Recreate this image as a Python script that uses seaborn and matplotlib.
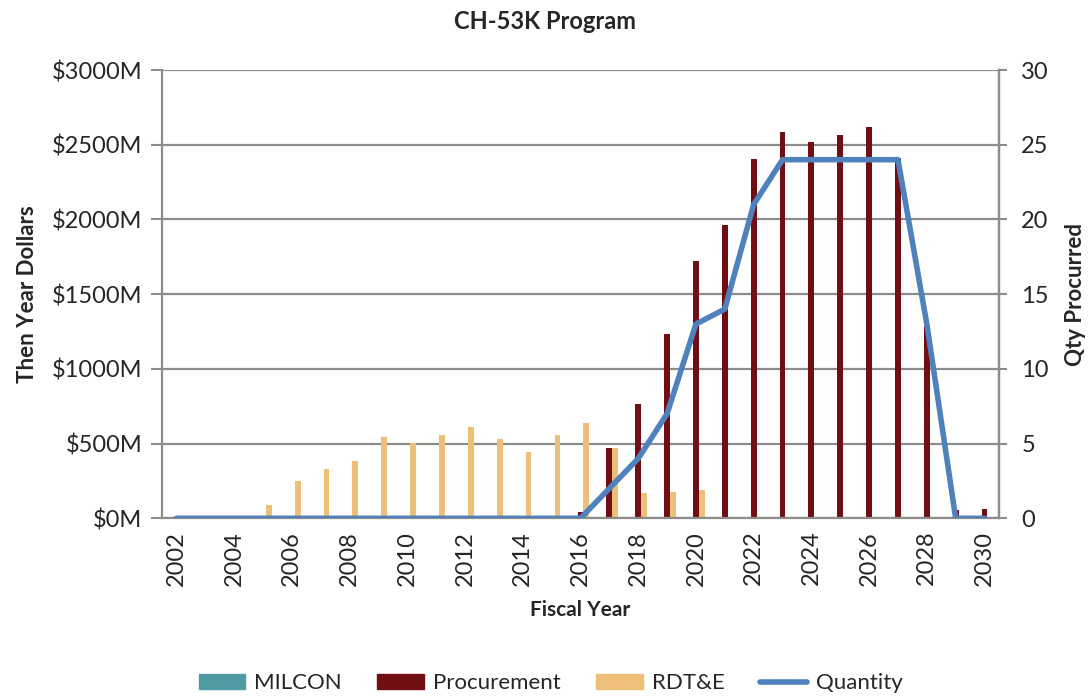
import numpy as np
import pandas as pd
import matplotlib
matplotlib.use('Agg')
import matplotlib.pyplot as plt
import seaborn as sns
from matplotlib.patches import Patch
from matplotlib.lines import Line2D

years = list(range(2002, 2031))
milcon = [0, 0, 0, 0, 0, 0, 0, 0, 0, 0, 0, 0, 0, 0, 0, 0, 0, 5, 0, 0, 0, 0, 0, 0, 0, 0, 0, 0, 0]
procurement = [0, 0, 0, 0, 0, 0, 0, 0, 0, 0, 0, 0, 0, 0, 40, 471, 767, 1231, 1723, 1962, 2402,
               2584, 2521, 2563, 2618, 2408, 1285, 55, 61]
rdte = [0, 0, 0, 91, 247, 332, 385, 541, 507, 559, 611, 532, 446, 559, 638, 471, 168, 179, 188,
        0, 0, 0, 0, 0, 0, 0, 0, 0, 0]
quantity = [0, 0, 0, 0, 0, 0, 0, 0, 0, 0, 0, 0, 0, 0, 0, 2, 4, 7, 13, 14, 21, 24, 24, 24, 24, 24,
            13, 0, 0]
series_names = ['MILCON', 'Procurement', 'RDT&E']
colors = ['#4F9BA4', '#700E13', '#EEBF78']
line_color = '#4F81BD'
grid_color = '#8C8C8C'

sns.set_theme(style='white')
plt.rcParams['font.family'] = ['Lato', 'DejaVu Sans']

df = pd.DataFrame({'year': [str(y) for y in years] * 3,
                   'series': np.repeat(series_names, len(years)),
                   'value': milcon + procurement + rdte})

fig = plt.figure(figsize=(10.9, 6.96), dpi=100)
ax = fig.add_axes([0.1486, 0.2553, 0.7679, 0.6441])
sns.barplot(data=df, x='year', y='value', hue='series', palette=colors, width=0.6,
            dodge=True, ax=ax, legend=False, saturation=1, linewidth=0)
ax.set_ylim(0, 3000)
ax.set_xlim(-0.5, len(years) - 0.5)
ax.set_yticks(range(0, 3001, 500))
ax.set_yticklabels([f'${v}M' for v in range(0, 3001, 500)], fontsize=17)
ax.yaxis.grid(True, color=grid_color, lw=1.6)
ax.set_axisbelow(True)

# year labels every other category, tick marks on category boundaries
ax.set_xticks(range(0, len(years), 2))
ax.set_xticklabels([str(y) for y in years[::2]], rotation=90, fontsize=17)
ax.set_xticks(np.arange(-0.5, len(years), 1), minor=True)
ax.tick_params(axis='x', which='major', length=0, pad=9)
ax.tick_params(axis='x', which='minor', length=6, width=1.5, color=grid_color, direction='out')
ax.tick_params(axis='y', length=8, width=1.5, color=grid_color, direction='out', pad=6)
ax.set_xlabel('Fiscal Year', fontsize=15, fontweight='bold', labelpad=10)
ax.set_ylabel('Then Year Dollars', fontsize=16, fontweight='bold', labelpad=10)
for s in ['left', 'right', 'bottom']:
    ax.spines[s].set_color(grid_color)
    ax.spines[s].set_linewidth(1.6)
ax.spines['top'].set_visible(False)

ax2 = ax.twinx()
sns.lineplot(x=np.arange(len(years)), y=quantity, color=line_color, lw=4, ax=ax2)
ax2.set_ylim(0, 30)
ax2.set_yticks(range(0, 31, 5))
ax2.tick_params(axis='y', labelsize=17, length=6, width=1.5, color=grid_color, direction='out', pad=10)
ax2.set_ylabel('Qty Procurred', fontsize=16, fontweight='bold', labelpad=12)
for s in ['left', 'right', 'bottom', 'top']:
    ax2.spines[s].set_visible(False)
ax2.spines['right'].set_visible(True)
ax2.spines['right'].set_color(grid_color)
ax2.spines['right'].set_linewidth(1.6)

fig.suptitle('CH-53K Program', y=0.985, fontsize=17, fontweight='bold')

handles = [Patch(color=c) for c in colors] + [Line2D([], [], color=line_color, lw=4)]
fig.legend(handles, series_names + ['Quantity'], loc='lower center', ncol=4, frameon=False,
           fontsize=16, bbox_to_anchor=(0.505, -0.025), handlelength=2.1, columnspacing=1.6,
           handletextpad=0.4)

fig.savefig('out.png', dpi=100)
